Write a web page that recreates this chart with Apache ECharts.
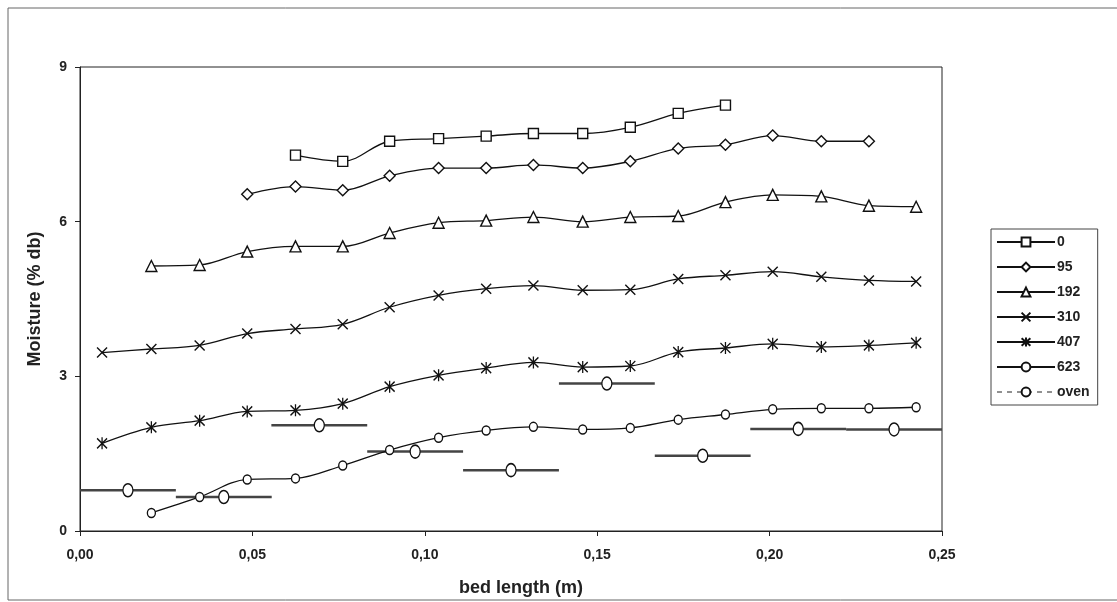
<!DOCTYPE html>
<html>
<head>
<meta charset="utf-8">
<script src="https://cdn.jsdelivr.net/npm/echarts@6/dist/echarts.min.js"></script>
<style>
html,body{margin:0;padding:0;background:#fff;}
#chart{width:1117px;height:602px;}
</style>
</head>
<body>
<div id="chart"></div>
<script>
// bed length positions of the measurement points (m)
const bedLength = [0.0064, 0.0207, 0.0347, 0.0485, 0.0625, 0.0762, 0.0898, 0.1040, 0.1178,
                   0.1315, 0.1458, 0.1596, 0.1735, 0.1872, 0.2009, 0.2150, 0.2288, 0.2425];
// moisture (% db) per series; each series starts at the given index of bedLength
const s0   = [7.29, 7.17, 7.56, 7.61, 7.66, 7.71, 7.71, 7.83, 8.10, 8.26];
const s0Start = 4;
const s95  = [6.53, 6.68, 6.61, 6.89, 7.04, 7.04, 7.10, 7.04, 7.17, 7.42, 7.49, 7.67, 7.56, 7.56];
const s95Start = 3;
const s192 = [5.14, 5.16, 5.42, 5.52, 5.52, 5.78, 5.98, 6.02, 6.09, 6.00, 6.09, 6.11, 6.38, 6.52, 6.49, 6.31, 6.29];
const s192Start = 1;
const s310 = [3.46, 3.53, 3.60, 3.83, 3.92, 4.01, 4.34, 4.57, 4.70, 4.76, 4.67, 4.68, 4.89, 4.96, 5.03, 4.93, 4.86, 4.84];
const s310Start = 0;
const s407 = [1.70, 2.01, 2.14, 2.32, 2.34, 2.47, 2.80, 3.02, 3.16, 3.27, 3.18, 3.20, 3.47, 3.55, 3.63, 3.57, 3.60, 3.65];
const s407Start = 0;
const s623 = [0.35, 0.66, 1.00, 1.02, 1.27, 1.57, 1.81, 1.95, 2.02, 1.97, 2.00, 2.16, 2.26, 2.36, 2.38, 2.38, 2.40];
const s623Start = 1;
// oven measurements: bin centre, moisture, half bin width
const ovenX = [0.0139, 0.0417, 0.0694, 0.0972, 0.1250, 0.1528, 0.1806, 0.2083, 0.2361];
const ovenY = [0.79, 0.66, 2.05, 1.54, 1.18, 2.86, 1.46, 1.98, 1.97];
const ovenHalf = [0.0139, 0.0139, 0.0139, 0.0139, 0.0139, 0.0139, 0.0139, 0.0139, 0.0139];
const seriesNames = ['0', '95', '192', '310', '407', '623', 'oven'];
const xTicks = [0, 0.05, 0.10, 0.15, 0.20, 0.25];
const yTicks = [0, 3, 6, 9];

function pairs(vals, start) { return vals.map((v, i) => [bedLength[start + i], v]); }

const FONT = 'Liberation Sans';
const symX = 'path://M0,0L10,10M10,0L0,10';
const symStar = 'path://M0,1L10,11M10,1L0,11M5,0L5,12';

function lineSeries(name, data, symbol, size) {
  return {
    name: name, type: 'line', data: data, smooth: 0.35,
    symbol: symbol, symbolSize: size, showSymbol: true,
    lineStyle: { color: '#111', width: 1.3 },
    itemStyle: { color: '#fff', borderColor: '#111', borderWidth: 1.4 },
    z: 3, animation: false
  };
}

const chart = echarts.init(document.getElementById('chart'));
chart.setOption({
  backgroundColor: '#fff',
  animation: false,
  graphic: [{
    type: 'rect', shape: { x: 8, y: 8, width: 1120, height: 592 },
    style: { fill: 'none', stroke: '#666', lineWidth: 1 }, silent: true, z: -1
  }],
  grid: { left: 80, top: 67, right: 175, bottom: 70, show: true, borderColor: '#222', borderWidth: 1, backgroundColor: 'transparent' },
  legend: {
    orient: 'vertical', left: 991, top: 229,
    itemWidth: 58, itemHeight: 11, itemGap: 11,
    padding: [6, 8, 6, 5],
    borderColor: '#444', borderWidth: 1,
    textStyle: { fontFamily: FONT, fontWeight: 'bold', fontSize: 14, color: '#222', padding: [0, 0, 0, -3] },
    data: [
      { name: '0' }, { name: '95' }, { name: '192' }, { name: '310' }, { name: '407' }, { name: '623' },
      { name: 'oven', lineStyle: { opacity: 1, type: [5, 5], width: 1, color: '#222' } }
    ]
  },
  xAxis: {
    type: 'value', min: xTicks[0], max: xTicks[xTicks.length - 1], interval: 0.05,
    name: 'bed length (m)', nameLocation: 'middle', nameGap: 48,
    nameTextStyle: { fontFamily: FONT, fontWeight: 'bold', fontSize: 18, color: '#222', padding: [0, 0, 0, 20] },
    axisLine: { show: true, lineStyle: { color: '#222', width: 1 } },
    axisTick: { show: true, inside: false, length: 5, lineStyle: { color: '#222' } },
    splitLine: { show: false },
    axisLabel: { fontFamily: FONT, fontWeight: 'bold', fontSize: 14, color: '#222', margin: 17,
      formatter: v => v.toFixed(2).replace('.', ',') }
  },
  yAxis: {
    type: 'value', min: yTicks[0], max: yTicks[yTicks.length - 1], interval: 3,
    name: 'Moisture (% db)', nameLocation: 'middle', nameGap: 36,
    nameTextStyle: { fontFamily: FONT, fontWeight: 'bold', fontSize: 18, color: '#222' },
    axisLine: { show: true, lineStyle: { color: '#222', width: 1 } },
    axisTick: { show: true, inside: false, length: 5, lineStyle: { color: '#222' } },
    splitLine: { show: false },
    axisLabel: { fontFamily: FONT, fontWeight: 'bold', fontSize: 14, color: '#222', margin: 13 }
  },
  series: [
    lineSeries('0', pairs(s0, s0Start), 'rect', 10),
    lineSeries('95', pairs(s95, s95Start), 'diamond', 11),
    lineSeries('192', pairs(s192, s192Start), 'triangle', 11),
    lineSeries('310', pairs(s310, s310Start), symX, 10),
    lineSeries('407', pairs(s407, s407Start), symStar, [10, 12]),
    lineSeries('623', pairs(s623, s623Start), 'circle', [8, 9]),
    {
      name: 'oven-bars', type: 'custom', z: 2, clip: false,
      data: ovenX.map((x, i) => [x, ovenY[i], ovenHalf[i]]),
      encode: { x: 0, y: 1 },
      renderItem: function (params, api) {
        const p1 = api.coord([api.value(0) - api.value(2), api.value(1)]);
        const p2 = api.coord([api.value(0) + api.value(2), api.value(1)]);
        return { type: 'line', shape: { x1: p1[0], y1: p1[1], x2: p2[0], y2: p2[1] },
                 style: { stroke: '#444', lineWidth: 2.5 } };
      },
      animation: false
    },
    {
      name: 'oven', type: 'line', data: ovenX.map((x, i) => [x, ovenY[i]]),
      symbol: 'circle', symbolSize: [10, 13], showSymbol: true,
      lineStyle: { opacity: 0, width: 0 },
      itemStyle: { color: '#fff', borderColor: '#111', borderWidth: 1.4 },
      z: 4, animation: false
    }
  ]
});
</script>
</body>
</html>
